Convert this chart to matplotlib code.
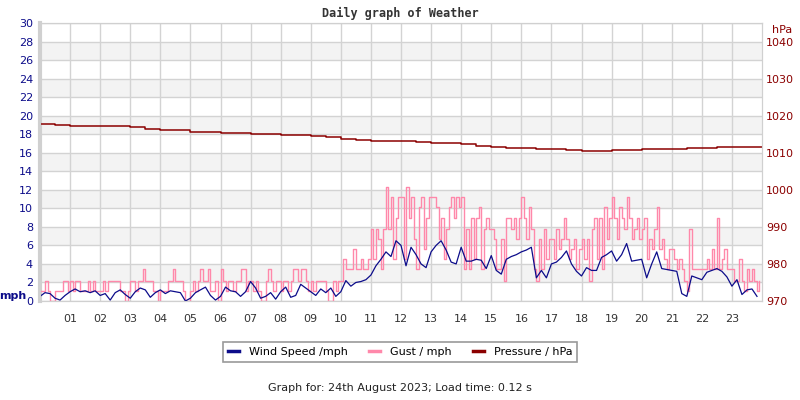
import numpy as np
import matplotlib
matplotlib.use('Agg')
import matplotlib.pyplot as plt
from matplotlib.lines import Line2D

# Wind speed (mph), 10-minute readings, 6 per hour, 00:00 -> 23:50
wind = [
    0.5, 0.9, 0.8, 0.3, 0.1, 0.6,
    1.0, 1.3, 1.0, 1.1, 0.9, 1.1,
    0.6, 0.8, 0.1, 0.9, 1.2, 0.7,
    0.3, 1.0, 1.4, 1.2, 0.4, 0.9,
    1.2, 0.8, 1.1, 1.0, 0.9, 0.0,
    0.3, 0.9, 1.2, 1.5, 0.6, 0.1,
    0.5, 1.5, 1.1, 1.0, 0.5, 1.0,
    2.1, 1.4, 0.3, 0.5, 0.9, 0.2,
    1.0, 1.5, 0.4, 0.6, 1.8, 1.4,
    1.0, 0.6, 1.3, 0.9, 1.4, 0.5,
    1.0, 2.2, 1.6, 2.0, 2.1, 2.3,
    2.8, 3.8, 4.5, 5.3, 4.8, 6.5,
    6.0, 3.8, 5.8, 5.0, 4.0, 3.6,
    5.3, 6.0, 6.5, 5.5, 4.2, 4.0,
    5.8, 4.3, 4.3, 4.5, 4.4, 3.5,
    4.9, 3.3, 2.9, 4.5, 4.8, 5.0,
    5.3, 5.5, 5.8, 2.5, 3.3, 2.5,
    4.0, 4.2, 4.7, 5.4, 4.0, 3.2,
    2.7, 3.6, 3.3, 3.3, 4.7, 5.0,
    5.4, 4.3, 5.0, 6.2, 4.3, 4.4,
    4.5, 2.5, 4.0, 5.3, 3.5, 3.4,
    3.3, 3.2, 0.8, 0.5, 2.7, 2.5,
    2.3, 3.1, 3.3, 3.5, 3.2, 2.6,
    1.6, 2.3, 0.7, 1.2, 1.3, 0.5,
]

# Gust (mph), 5-minute readings, 12 per hour
gust = [
    1.1, 1.1, 2.2, 1.1, 0.0, 0.0, 1.1, 1.1, 1.1, 2.2, 2.2, 1.1,
    2.2, 1.1, 2.2, 2.2, 1.1, 1.1, 1.1, 2.2, 1.1, 2.2, 1.1, 1.1,
    1.1, 2.2, 1.1, 2.2, 2.2, 2.2, 2.2, 2.2, 1.1, 1.1, 0.0, 1.1,
    2.2, 2.2, 1.1, 2.2, 2.2, 3.4, 2.2, 2.2, 2.2, 1.1, 1.1, 0.0,
    1.1, 1.1, 1.1, 2.2, 2.2, 3.4, 2.2, 2.2, 2.2, 1.1, 0.0, 0.0,
    1.1, 2.2, 1.1, 2.2, 3.4, 2.2, 2.2, 3.4, 1.1, 1.1, 2.2, 0.0,
    3.4, 2.2, 1.1, 2.2, 2.2, 1.1, 2.2, 2.2, 3.4, 3.4, 1.1, 2.2,
    2.2, 1.1, 2.2, 1.1, 0.0, 0.0, 2.2, 3.4, 2.2, 1.1, 2.2, 2.2,
    1.1, 2.2, 2.2, 1.1, 2.2, 3.4, 3.4, 2.2, 3.4, 3.4, 2.2, 1.1,
    2.2, 1.1, 2.2, 2.2, 2.2, 2.2, 1.1, 0.0, 0.0, 2.2, 1.1, 2.2,
    2.2, 4.5, 3.4, 3.4, 3.4, 5.6, 3.4, 3.4, 4.5, 3.4, 3.4, 4.5,
    7.8, 4.5, 7.8, 6.7, 3.4, 7.8, 12.3, 7.8, 11.2, 4.5, 9.0, 11.2,
    11.2, 4.5, 12.3, 9.0, 11.2, 6.7, 3.4, 10.1, 11.2, 5.6, 9.0, 11.2,
    11.2, 11.2, 10.1, 6.7, 9.0, 4.5, 7.8, 10.1, 11.2, 9.0, 11.2, 10.1,
    11.2, 3.4, 7.8, 3.4, 9.0, 4.5, 9.0, 10.1, 3.4, 7.8, 9.0, 7.8,
    7.8, 6.7, 3.4, 3.4, 6.7, 2.2, 9.0, 9.0, 7.8, 9.0, 6.7, 9.0,
    11.2, 9.0, 6.7, 10.1, 7.8, 3.4, 2.2, 6.7, 3.4, 7.8, 4.5, 6.7,
    6.7, 4.5, 7.8, 5.6, 6.7, 9.0, 6.7, 4.5, 5.6, 6.7, 3.4, 5.6,
    6.7, 4.5, 6.7, 2.2, 7.8, 9.0, 4.5, 9.0, 3.4, 10.1, 6.7, 9.0,
    11.2, 9.0, 6.7, 10.1, 9.0, 7.8, 11.2, 9.0, 6.7, 7.8, 9.0, 6.7,
    7.8, 9.0, 4.5, 6.7, 5.6, 7.8, 10.1, 5.6, 6.7, 4.5, 3.4, 5.6,
    5.6, 4.5, 3.4, 4.5, 3.4, 2.2, 1.1, 7.8, 3.4, 3.4, 3.4, 3.4,
    3.4, 3.4, 4.5, 3.4, 5.6, 3.4, 9.0, 3.4, 4.5, 5.6, 3.4, 3.4,
    3.4, 2.2, 2.2, 4.5, 2.2, 1.1, 3.4, 2.2, 3.4, 2.2, 1.1, 2.2,
]

# Pressure (hPa), half-hourly, 00:00 -> 24:00
pressure = [
    1017.8, 1017.6, 1017.3, 1017.3, 1017.3, 1017.3, 1017.0, 1016.5,
    1016.2, 1016.0, 1015.7, 1015.5, 1015.4, 1015.3, 1015.1, 1015.0,
    1014.9, 1014.9, 1014.6, 1014.3, 1013.8, 1013.5, 1013.2, 1013.1,
    1013.1, 1012.9, 1012.7, 1012.5, 1012.3, 1011.9, 1011.6, 1011.3,
    1011.2, 1011.0, 1010.9, 1010.7, 1010.6, 1010.6, 1010.7, 1010.8,
    1010.9, 1011.0, 1011.1, 1011.2, 1011.4, 1011.5, 1011.6, 1011.6,
    1011.6,
]

hour_labels = ['%02d' % h for h in range(1, 24)]

NAVY = '#0c0c8a'
PINK = '#ff88aa'
DARKRED = '#8b0000'

wind_t = np.arange(len(wind)) / 6.0
gust_t = np.arange(len(gust)) / 12.0
pres_t = np.arange(len(pressure)) / 2.0

fig = plt.figure(figsize=(8, 4), dpi=100)
ax = fig.add_axes([0.05, 0.2475, 0.9025, 0.695])
ax2 = ax.twinx()

# background bands
for lo in range(2, 30, 4):
    ax.axhspan(lo, lo + 2, color='#f3f3f3', zorder=0, lw=0)

ax.set_xlim(0, 24)
ax.set_ylim(0, 30)
ax2.set_ylim(970, 1045)

ax.set_xticks(range(1, 24))
ax.set_xticklabels(hour_labels)
ax.set_yticks(range(0, 31, 2))
ax2.set_yticks(range(970, 1041, 10))

ax.grid(True, color='#d3d3d3', lw=1, zorder=1)
ax.set_axisbelow(True)

ax.tick_params(axis='x', length=0, pad=9, labelsize=8, colors='#333333')
ax.tick_params(axis='y', length=0, pad=5, labelsize=8, colors=NAVY)
ax2.tick_params(axis='y', length=0, pad=3, labelsize=8, colors=DARKRED)

for a in (ax, ax2):
    for s in a.spines.values():
        s.set_color('#d0d0d0')
ax.spines['left'].set_linewidth(3)

ax.plot(gust_t, gust, color=PINK, lw=1.0, zorder=3, drawstyle='steps-post')
ax.plot(wind_t, wind, color=NAVY, lw=0.9, zorder=4)
ax2.plot(pres_t, pressure, color=DARKRED, lw=1.1, drawstyle='steps-post')

fig.text(0.5, 1 - 13 / 400, 'Daily graph of Weather', ha='center', va='center',
         family='DejaVu Sans Mono', weight='bold', fontsize=8.5, color='#333333')
fig.text(13 / 800, 1 - 296 / 400, 'mph', ha='center', va='center',
         weight='bold', fontsize=8, color=NAVY)
fig.text(782 / 800, 1 - 30 / 400, 'hPa', ha='center', va='center',
         fontsize=8, color=DARKRED)

handles = [Line2D([], [], color=NAVY, lw=2.5),
           Line2D([], [], color=PINK, lw=2.5),
           Line2D([], [], color=DARKRED, lw=2.5)]
leg = fig.legend(handles, ['Wind Speed /mph', 'Gust / mph', 'Pressure / hPa'],
                 loc='center', bbox_to_anchor=(400 / 800, 1 - 352 / 400), ncol=3,
                 fontsize=8, handlelength=1.0, handletextpad=0.9, columnspacing=1.9,
                 fancybox=False, edgecolor='#808080', borderpad=0.45)
leg.get_frame().set_linewidth(1.2)

fig.text(0.5, 1 - 388 / 400, 'Graph for: 24th August 2023; Load time: 0.12 s',
         ha='center', va='center', fontsize=8, color='#222222')

fig.savefig('out.png', dpi=100)
